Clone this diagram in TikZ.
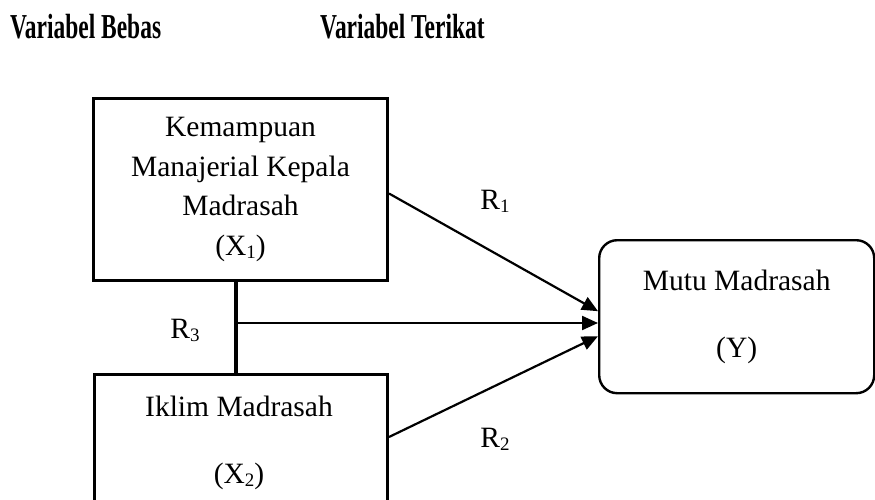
\documentclass[tikz,border=0pt]{standalone}
\usepackage{fontspec}
\usepackage{graphicx}
\setmainfont{Liberation Serif}
\usetikzlibrary{arrows.meta,calc}
\newcommand\sbs[1]{\raisebox{-3pt}{\fontsize{19}{19}\selectfont #1}}
\tikzset{
  txt/.style={font=\fontsize{29.5}{39.5}\selectfont, align=center, inner sep=0pt},
  box/.style={draw, line width=3pt, inner sep=0pt, anchor=north west, txt},
  ybox/.style={draw, line width=2.4pt, rounded corners=18pt, inner sep=0pt, anchor=north west, txt},
  hdr/.style={font=\bfseries\fontsize{35}{35}\selectfont, anchor=base west, inner sep=0pt},
  arr/.style={line width=2.2pt, -{Triangle[length=16pt,width=14pt]}},
  lnk/.style={line width=3.2pt}
}
\begin{document}
\begin{tikzpicture}[x=1pt,y=-1pt]
\useasboundingbox (0,0) rectangle (875,500);
\clip (0,0) rectangle (875,500);
% headers
\node[hdr] (h1) at (10,39) {\scalebox{0.67}[1]{Variabel Bebas}};
\node[hdr] (h2) at (320,39) {\scalebox{0.67}[1]{Variabel Terikat}};
% boxes
\node[box, minimum width=294pt, minimum height=182pt] (X1) at (92,97)
  {Kemampuan\\Manajerial Kepala\\Madrasah\\(X\sbs{1})};
\node[box, minimum width=293pt, minimum height=200pt] (X2) at (93,373) {};
\node[txt] (X2t) at (239,443) {Iklim Madrasah\\[27.5pt](X\sbs{2})};
\node[ybox, minimum width=275pt, minimum height=153pt] (Y) at (598,239)
  {Mutu Madrasah\\[27.5pt](Y)};
% link X1-X2 and junction
\coordinate (j) at (236,323);
\draw[lnk] (X1.south -| j) -- (X2.north -| j);
% arrows
\draw[arr] ($(X1.east)+(0,4)$) -- ($(Y.west)+(0,-5.5)$);
\draw[arr] (j) -- (j -| Y.west);
\draw[arr] ($(X2.north east)+(0,64)$) -- ($(Y.west)+(0,19.5)$);
% labels
\node[txt, anchor=base] (r1) at (495,209) {R\sbs{1}};
\node[txt, anchor=base] (r2) at (495,447) {R\sbs{2}};
\node[txt, anchor=base] (r3) at (185,338) {R\sbs{3}};
\end{tikzpicture}
\end{document}
